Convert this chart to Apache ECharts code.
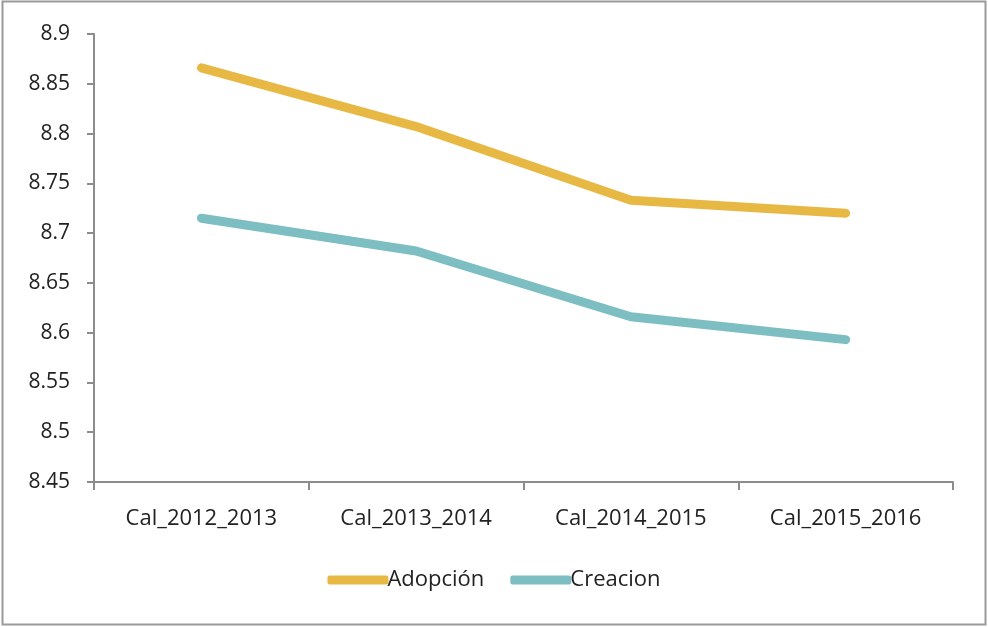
<!DOCTYPE html>
<html>
<head>
<meta charset="utf-8">
<script src="https://cdn.jsdelivr.net/npm/echarts@6/dist/echarts.min.js"></script>
<style>
  html, body { margin: 0; padding: 0; background: #fff; }
  #chart { width: 988px; height: 627px; }
</style>
</head>
<body>
<div id="chart"></div>
<script>
// datos
const categories = ['Cal_2012_2013', 'Cal_2013_2014', 'Cal_2014_2015', 'Cal_2015_2016'];
const adopcion = [8.866, 8.807, 8.733, 8.720];
const creacion = [8.715, 8.682, 8.616, 8.593];

const FONT = 'Open Sans';
const axisGrey = '#8c8c8c';

const chart = echarts.init(document.getElementById('chart'));
chart.setOption({
  backgroundColor: '#fff',
  animation: false,
  graphic: [{
    type: 'rect',
    shape: { x: 2.5, y: 1.5, width: 983, height: 623 },
    style: { fill: 'none', stroke: '#9a9a9a', lineWidth: 2 },
    silent: true
  }],
  grid: { left: 94, right: 35, top: 34, bottom: 145 },
  legend: {
    bottom: 31,
    left: 'center',
    itemWidth: 61,
    itemHeight: 9,
    itemGap: 26,
    textStyle: { fontFamily: FONT, fontSize: 22, color: '#222', padding: [0, 0, 0, -6] },
    data: [
      { name: 'Adopción', icon: 'roundRect' },
      { name: 'Creacion', icon: 'roundRect' }
    ]
  },
  xAxis: {
    type: 'category',
    data: categories,
    boundaryGap: true,
    axisLine: { lineStyle: { color: axisGrey, width: 2 } },
    axisTick: { show: true, length: 8, inside: false, lineStyle: { color: axisGrey, width: 2 } },
    axisLabel: { fontFamily: FONT, fontSize: 22, color: '#222', margin: 26 }
  },
  yAxis: {
    type: 'value',
    min: 8.45,
    max: 8.9,
    interval: 0.05,
    axisLine: { show: true, lineStyle: { color: axisGrey, width: 2 } },
    axisTick: { show: true, length: 7, lineStyle: { color: axisGrey, width: 2 } },
    splitLine: { show: false },
    axisLabel: {
      fontFamily: FONT, fontSize: 21, color: '#222', margin: 24,
      formatter: v => String(+v.toFixed(2))
    }
  },
  series: [
    {
      name: 'Adopción',
      type: 'line',
      data: adopcion,
      symbol: 'none',
      itemStyle: { color: '#E8B845' },
      lineStyle: { width: 9, cap: 'round', join: 'round', color: '#E8B845' }
    },
    {
      name: 'Creacion',
      type: 'line',
      data: creacion,
      symbol: 'none',
      itemStyle: { color: '#7DBEC3' },
      lineStyle: { width: 9, cap: 'round', join: 'round', color: '#7DBEC3' }
    }
  ]
});
</script>
</body>
</html>
